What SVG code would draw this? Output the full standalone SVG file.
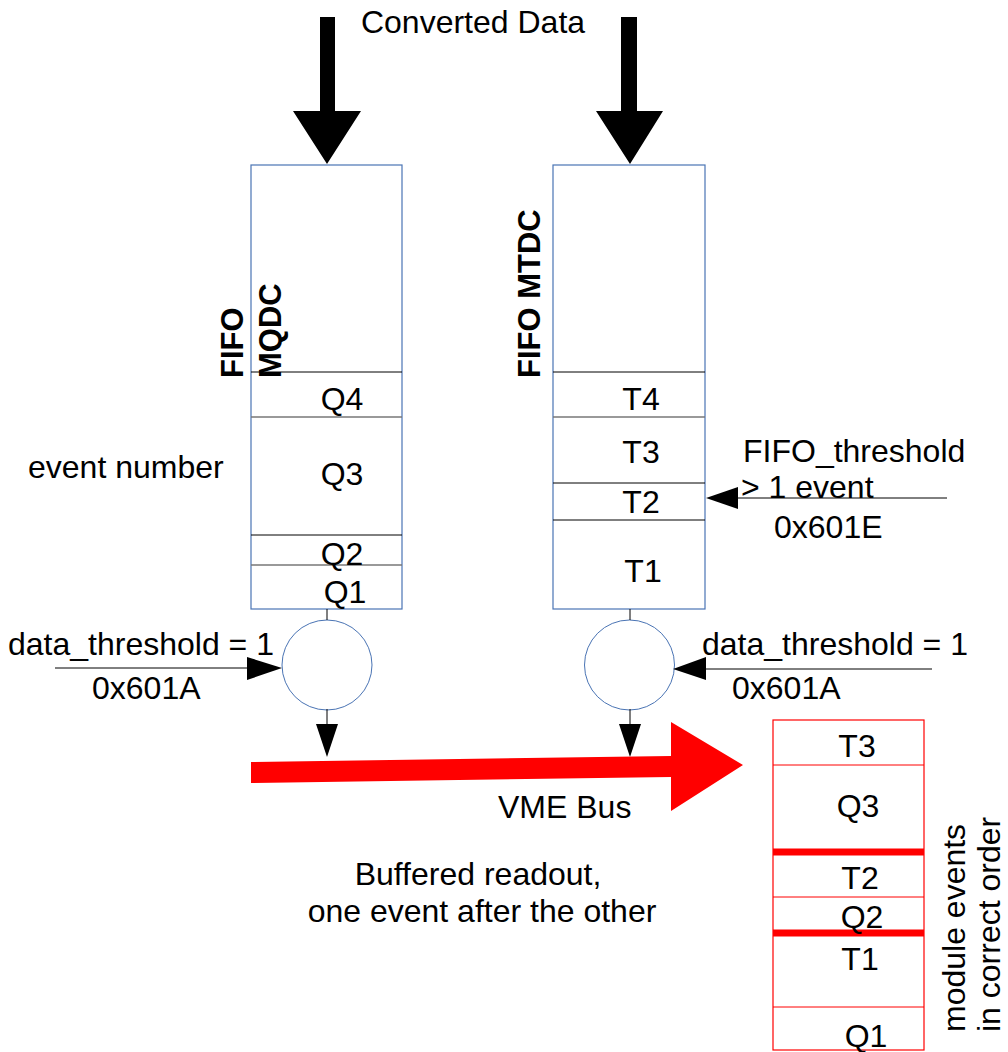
<svg xmlns="http://www.w3.org/2000/svg" width="1008" height="1052" viewBox="0 0 1008 1052">
<style>
text{font-family:"Liberation Sans",Arial,sans-serif;font-size:32px;fill:#000}
.c{text-anchor:middle}
.b{font-weight:bold;font-size:31px}
.fifo{fill:#fff;stroke:#4a74b4;stroke-width:1.2}
.blk{stroke:#000;stroke-width:1}
.gry{stroke:#777;stroke-width:1.5}
.circ{fill:#fff;stroke:#4a74b4;stroke-width:1}
.ln{stroke:#000;stroke-width:1;fill:none}
.red{fill:#fff;stroke:#ff0000;stroke-width:1.2}
.rl{stroke:#ff0000;stroke-width:1}
.rt{stroke:#ff0000;stroke-width:7}
</style>
<rect width="1008" height="1052" fill="#fff"/>
<g id="title"><text class="c" x="473" y="33">Converted Data</text></g>
<g id="fifo-mqdc">
<rect class="fifo" x="251" y="165" width="151" height="444"/>
<line class="blk" x1="251" y1="372" x2="402" y2="372"/>
<line class="gry" x1="251" y1="417" x2="402" y2="417"/>
<line class="blk" x1="251" y1="535" x2="402" y2="535"/>
<line class="gry" x1="251" y1="565" x2="402" y2="565"/>
<text class="c" x="342" y="410">Q4</text>
<text class="c" x="342" y="485">Q3</text>
<text class="c" x="342" y="565">Q2</text>
<text class="c" x="345" y="603">Q1</text>
<text class="b" transform="translate(243,378) rotate(-90)">FIFO</text>
<text class="b" transform="translate(281,378) rotate(-90)">MQDC</text>
</g>
<g id="fifo-mtdc">
<rect class="fifo" x="553" y="165" width="152" height="444"/>
<line class="blk" x1="553" y1="372" x2="705" y2="372"/>
<line class="gry" x1="553" y1="417" x2="705" y2="417"/>
<line class="blk" x1="553" y1="483" x2="705" y2="483"/>
<line class="blk" x1="553" y1="520" x2="705" y2="520"/>
<text class="c" x="641" y="410">T4</text>
<text class="c" x="641" y="463">T3</text>
<text class="c" x="641" y="513">T2</text>
<text class="c" x="643" y="582">T1</text>
<text class="b" transform="translate(540,378) rotate(-90)">FIFO MTDC</text>
</g>
<g id="label-event-number"><text x="28" y="478">event number</text></g>
<g id="label-fifo-threshold">
<text x="743" y="462">FIFO_threshold</text>
<text x="741" y="498">&gt; 1 event</text>
<text x="774" y="538">0x601E</text>
</g>
<g id="gate-left"><circle class="circ" cx="327" cy="665" r="45"/></g>
<g id="gate-right"><circle class="circ" cx="629.5" cy="665" r="45"/></g>
<g id="label-threshold-left">
<text x="8" y="655">data_threshold = 1</text>
<text x="92" y="699">0x601A</text>
</g>
<g id="label-threshold-right">
<text x="702" y="655">data_threshold = 1</text>
<text x="732" y="699">0x601A</text>
</g>
<g id="readout-stack">
<rect class="red" x="773" y="720" width="151" height="330"/>
<line class="rl" x1="773" y1="765" x2="924" y2="765"/>
<line class="rt" x1="773" y1="852" x2="924" y2="852"/>
<line class="rl" x1="773" y1="897" x2="924" y2="897"/>
<line class="rt" x1="773" y1="933" x2="924" y2="933"/>
<line class="rl" x1="773" y1="1007" x2="924" y2="1007"/>
<text class="c" x="857" y="757">T3</text>
<text class="c" x="858" y="817">Q3</text>
<text class="c" x="860" y="889">T2</text>
<text class="c" x="862" y="928">Q2</text>
<text class="c" x="860" y="970">T1</text>
<text class="c" x="866" y="1047">Q1</text>
<text transform="translate(965,1032) rotate(-90)">module events</text>
<text transform="translate(1000,1032) rotate(-90)">in correct order</text>
</g>
<g id="label-vme"><text x="498" y="818">VME Bus</text></g>
<g id="label-buffered">
<text class="c" x="478" y="885">Buffered readout,</text>
<text class="c" x="482" y="922">one event after the other</text>
</g>
<g id="connectors">
<polygon points="320,17 335,17 335,111 361,111 327,164 293,111 320,111" fill="#000"/>
<polygon points="621,17 637,17 637,111 663,111 630,164 596,111 621,111" fill="#000"/>
<line class="ln" x1="327" y1="609" x2="327" y2="620"/>
<line class="ln" x1="630" y1="609" x2="630" y2="620"/>
<line class="ln" x1="55" y1="668" x2="250" y2="668"/>
<polygon points="282,668 247,657 247,680" fill="#000"/>
<line class="ln" x1="932" y1="669" x2="705" y2="669"/>
<polygon points="673,669 706,657 706,680" fill="#000"/>
<line class="ln" x1="947" y1="498" x2="735" y2="498"/>
<polygon points="706,498 738,487 738,509" fill="#000"/>
<line class="ln" x1="327" y1="709" x2="327" y2="726"/>
<polygon points="316,724 338,724 327,757" fill="#000"/>
<line class="ln" x1="630" y1="709" x2="630" y2="726"/>
<polygon points="619,724 641,724 630,757" fill="#000"/>
<polygon points="251,762 671,756 671,722 743,765 671,811 671,777 251,783" fill="#ff0000"/>
</g>
</svg>
